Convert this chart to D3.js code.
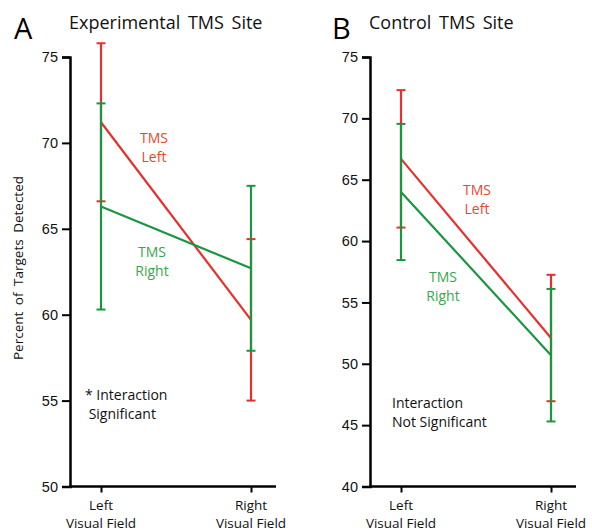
<!DOCTYPE html>
<html>
<head>
<meta charset="utf-8">
<script src="https://cdn.jsdelivr.net/npm/d3@7"></script>
<style>
  body { margin: 0; background: #fff; }
  svg { font-family: "Open Sans", "Noto Sans", sans-serif; }
</style>
</head>
<body>
<svg id="chart" width="592" height="531"></svg>
<script>
// visual fields on the x axis
const fields = ["Left", "Right"];

// panel A: experimental TMS site
const expLeftMean = [71.2, 59.7];
const expLeftErr = [4.6, 4.7];
const expRightMean = [66.3, 62.7];
const expRightErr = [6.0, 4.8];
const expTicks = [50, 55, 60, 65, 70, 75];

// panel B: control TMS site
const ctlLeftMean = [66.7, 52.1];
const ctlLeftErr = [5.6, 5.15];
const ctlRightMean = [64.0, 50.7];
const ctlRightErr = [5.55, 5.4];
const ctlTicks = [40, 45, 50, 55, 60, 65, 70, 75];

const red = "#e8302a";
const redText = "#e8462a";
const green = "#1a9640";
const greenText = "#3aa64c";

const svg = d3.select("#chart");

const drawPanel = (opts) => {
  const g = svg.append("g").attr("transform", "translate(" + opts.left + ",0)");
  const top = 57, bottom = 486.5, axisW = 206;

  const y = d3.scaleLinear()
    .domain(d3.extent(opts.ticks))
    .range([bottom, top]);
  const x = d3.scalePoint().domain(fields).range([31, 181]);

  // y axis
  const yAxis = d3.axisLeft(y).tickValues(opts.ticks).tickSizeOuter(0).tickSize(8).tickPadding(4);
  const ya = g.append("g").call(yAxis);
  ya.select(".domain").attr("stroke-width", 2.5);
  ya.selectAll(".tick line").attr("stroke-width", 2);
  ya.selectAll(".tick text").attr("font-size", 14.5).attr("fill", "#111");

  // x axis
  const xa = g.append("g").attr("transform", "translate(0," + bottom + ")")
    .call(d3.axisBottom(x).tickSize(6).tickSizeOuter(0).tickFormat(""));
  xa.select(".domain").remove();
  xa.selectAll(".tick line").attr("stroke-width", 2);
  g.append("line")
    .attr("x1", -1).attr("x2", axisW)
    .attr("y1", bottom).attr("y2", bottom)
    .attr("stroke", "#000").attr("stroke-width", 2.5);

  fields.forEach((f) => {
    g.append("text")
      .attr("text-anchor", "middle")
      .attr("font-size", 13.5)
      .attr("fill", "#111")
      .attr("x", x(f)).attr("y", 510)
      .text(f);
    g.append("text")
      .attr("text-anchor", "middle")
      .attr("font-size", 13.5)
      .attr("fill", "#111")
      .attr("x", x(f)).attr("y", 528)
      .text("Visual Field");
  });

  // series: red (TMS Left) first, green (TMS Right) on top
  const series = [
    { mean: opts.leftMean, err: opts.leftErr, color: red },
    { mean: opts.rightMean, err: opts.rightErr, color: green },
  ];
  const line = d3.line().x((d, i) => x(fields[i])).y((d) => y(d));

  series.forEach((s) => {
    g.append("path")
      .datum(s.mean)
      .attr("d", line)
      .attr("fill", "none")
      .attr("stroke", s.color)
      .attr("stroke-width", 2.2);
  });
  series.forEach((s) => {
    const bars = g.append("g").selectAll("g")
      .data(s.mean)
      .join("g");
    bars.append("line")
      .attr("x1", (d, i) => x(fields[i])).attr("x2", (d, i) => x(fields[i]))
      .attr("y1", (d, i) => y(d - s.err[i])).attr("y2", (d, i) => y(d + s.err[i]))
      .attr("stroke", s.color).attr("stroke-width", 2.2);
    [-1, 1].forEach((sgn) => {
      bars.append("line")
        .attr("x1", (d, i) => x(fields[i]) - 4.5).attr("x2", (d, i) => x(fields[i]) + 4.5)
        .attr("y1", (d, i) => y(d + sgn * s.err[i])).attr("y2", (d, i) => y(d + sgn * s.err[i]))
        .attr("stroke", s.color).attr("stroke-width", 2);
    });
  });

  // title and panel letter
  g.append("text").attr("x", opts.letterX).attr("y", 39)
    .attr("font-size", 29).attr("fill", "#000").text(opts.letter);
  g.append("text").attr("x", -1).attr("y", 29)
    .attr("font-size", 18).attr("word-spacing", 3).attr("fill", "#111").text(opts.title);

  // in-plot labels
  const label = (lines, cx, cy, color, anchor) => {
    const t = g.append("text").attr("font-size", 14).attr("fill", color)
      .attr("text-anchor", anchor || "middle");
    lines.forEach((l, k) => t.append("tspan").attr("x", cx).attr("y", cy + k * 19).text(l));
  };
  label(["TMS", "Left"], opts.leftLabel[0], opts.leftLabel[1], redText);
  label(["TMS", "Right"], opts.rightLabel[0], opts.rightLabel[1], greenText);
  label(opts.note, opts.noteXY[0], opts.noteXY[1], "#111", "start");
  return g;
};

drawPanel({
  left: 70, ticks: expTicks, letter: "A", letterX: -56, title: "Experimental TMS Site",
  leftMean: expLeftMean, leftErr: expLeftErr, rightMean: expRightMean, rightErr: expRightErr,
  leftLabel: [84, 143], rightLabel: [82, 257],
  note: ["* Interaction", "  Significant"], noteXY: [15, 400],
});

drawPanel({
  left: 370, ticks: ctlTicks, letter: "B", letterX: -38, title: "Control TMS Site",
  leftMean: ctlLeftMean, leftErr: ctlLeftErr, rightMean: ctlRightMean, rightErr: ctlRightErr,
  leftLabel: [107, 195], rightLabel: [73, 282],
  note: ["Interaction", "Not Significant"], noteXY: [22, 408],
});

// shared y axis title
svg.append("text")
  .attr("transform", "translate(23,268) rotate(-90)")
  .attr("text-anchor", "middle")
  .attr("font-size", 13.5)
  .attr("word-spacing", 3)
  .attr("fill", "#111")
  .text("Percent of Targets Detected");
</script>
</body>
</html>
